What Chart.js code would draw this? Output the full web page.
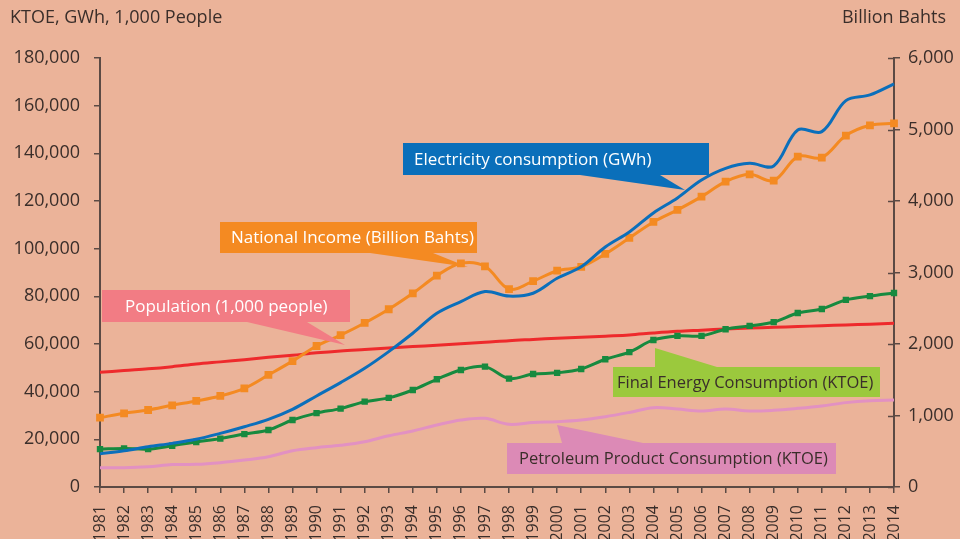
<!DOCTYPE html>
<html>
<head>
<meta charset="utf-8">
<script src="https://cdn.jsdelivr.net/npm/chart.js@4/dist/chart.umd.min.js"></script>
<style>
  body { margin: 0; background: #ebb399; }
  canvas { display: block; }
</style>
</head>
<body>
<canvas id="energyChart" width="960" height="539"></canvas>
<script>
const years = ['1981', '1982', '1983', '1984', '1985', '1986', '1987', '1988', '1989', '1990',
  '1991', '1992', '1993', '1994', '1995', '1996', '1997', '1998', '1999', '2000',
  '2001', '2002', '2003', '2004', '2005', '2006', '2007', '2008', '2009', '2010',
  '2011', '2012', '2013', '2014'];

// left axis: KTOE, GWh, 1,000 people
const electricity = [13900, 15200, 16900, 18300, 20000, 22500, 25300, 28400, 32600, 38200,
  43800, 49800, 56800, 64500, 72900, 77800, 82000, 80100, 81300, 87600,
  92400, 100700, 107000, 115000, 121300, 128800, 133700, 135800, 134700, 149800,
  149100, 162100, 164500, 169100];
const population = [48100, 48900, 49600, 50500, 51600, 52500, 53400, 54400, 55300, 56300,
  57100, 57700, 58300, 58900, 59500, 60100, 60700, 61400, 61900, 62400,
  62800, 63300, 63800, 64600, 65300, 65800, 66300, 66700, 67000, 67300,
  67700, 68000, 68300, 68700];
const finalEnergy = [15900, 16200, 15900, 17300, 18900, 20300, 22200, 23900, 28100, 31000,
  32900, 35800, 37400, 40700, 45200, 49100, 50500, 45500, 47400, 47900,
  49500, 53600, 56600, 61700, 63400, 63400, 66200, 67600, 69200, 73000,
  74700, 78500, 80100, 81400];
const petroleum = [8100, 8100, 8500, 9400, 9500, 10200, 11300, 12700, 15200, 16500,
  17500, 19000, 21500, 23500, 26000, 28100, 28800, 26300, 27100, 27400,
  28100, 29500, 31300, 33300, 32700, 31900, 32700, 31900, 32200, 33000,
  34000, 35400, 36200, 36500];
// right axis: billion bahts
const nationalIncome = [970, 1031, 1077, 1143, 1203, 1273, 1380, 1567, 1760, 1972,
  2124, 2294, 2486, 2709, 2956, 3129, 3087, 2768, 2878, 3025,
  3080, 3260, 3483, 3707, 3875, 4061, 4271, 4373, 4285, 4621,
  4607, 4915, 5059, 5087];

const leftTicks = [0, 20000, 40000, 60000, 80000, 100000, 120000, 140000, 160000, 180000];
const rightTicks = [0, 1000, 2000, 3000, 4000, 5000, 6000];

const FONT = 'Open Sans';
const AXIS = '#5b4a44';
const TEXT = '#3a2e2a';

function fmt(v) {
  return String(v).replace(/\B(?=(\d{3})+(?!\d))/g, ',');
}

const callouts = [
  { text: 'Electricity consumption (GWh)', fill: '#0a6fba', color: '#ffffff', size: 17,
    box: [403, 143, 306, 32], tx: 414, tri: [[580, 175], [660, 175], [685, 190]] },
  { text: 'National Income (Billion Bahts)', fill: '#f48a22', color: '#ffffff', size: 17,
    box: [220, 222, 257, 31], tx: 231, tri: [[370, 253], [433, 253], [468, 267]] },
  { text: 'Population (1,000 people)', fill: '#f27c84', color: '#ffffff', size: 17,
    box: [102, 290, 248, 32], tx: 125, tri: [[247, 322], [307, 322], [345, 345]] },
  { text: 'Final Energy Consumption (KTOE)', fill: '#9bc93d', color: TEXT, size: 16.5,
    box: [613, 367, 267, 30], tx: 617, tri: [[655, 367], [655, 348], [717, 367]] },
  { text: 'Petroleum Product Consumption (KTOE)', fill: '#dc8ab6', color: TEXT, size: 16.5,
    box: [507, 443, 329, 31], tx: 519, tri: [[557, 425], [562, 443], [643, 443]] }
];

const decor = {
  id: 'decor',
  beforeDraw(chart) {
    const c = chart.ctx;
    c.save();
    c.fillStyle = '#ebb399';
    c.fillRect(0, 0, chart.width, chart.height);
    c.restore();
  },
  afterDatasetsDraw(chart) {
    const c = chart.ctx;
    c.save();
    callouts.forEach(o => {
      c.fillStyle = o.fill;
      c.fillRect(o.box[0], o.box[1], o.box[2], o.box[3]);
      c.beginPath();
      c.moveTo(o.tri[0][0], o.tri[0][1]);
      c.lineTo(o.tri[1][0], o.tri[1][1]);
      c.lineTo(o.tri[2][0], o.tri[2][1]);
      c.closePath();
      c.fill();
      c.fillStyle = o.color;
      c.font = o.size + 'px "' + FONT + '"';
      c.textBaseline = 'middle';
      c.textAlign = 'left';
      c.fillText(o.text, o.tx, o.box[1] + o.box[3] / 2 + 1);
    });
    c.restore();
  },
  afterDraw(chart) {
    const c = chart.ctx;
    const area = chart.chartArea;
    const y1 = chart.scales.y1;
    c.save();
    // inner half of the right axis ticks
    c.strokeStyle = AXIS;
    c.lineWidth = 1.5;
    rightTicks.forEach(v => {
      const py = Math.round(y1.getPixelForValue(v)) + 0.5;
      c.beginPath();
      c.moveTo(area.right - 6, py);
      c.lineTo(area.right, py);
      c.stroke();
    });
    c.fillStyle = TEXT;
    c.font = '18px "' + FONT + '"';
    c.textBaseline = 'middle';
    c.textAlign = 'left';
    c.fillText('KTOE, GWh, 1,000 People', 10, 18);
    c.textAlign = 'right';
    c.fillText('Billion Bahts', 946, 18);
    c.restore();
  }
};

function line(label, data, color, axis, order, marker) {
  return {
    label: label,
    data: data,
    yAxisID: axis,
    borderColor: color,
    backgroundColor: color,
    borderWidth: 3,
    tension: 0.35,
    order: order,
    pointStyle: 'rect',
    pointRadius: marker,
    pointHoverRadius: marker,
    pointBorderWidth: 0
  };
}

const ctx = document.getElementById('energyChart').getContext('2d');
const energyChart = new Chart(ctx, {
  type: 'line',
  data: {
    labels: years,
    datasets: [
      line('Electricity consumption (GWh)', electricity, '#0b6fbb', 'y', 1, 0),
      line('National Income (Billion Bahts)', nationalIncome, '#f48a22', 'y1', 2, 5.5),
      line('Final Energy Consumption (KTOE)', finalEnergy, '#178a3f', 'y', 3, 4.5),
      line('Population (1,000 people)', population, '#ee2a2c', 'y', 4, 0),
      line('Petroleum Product Consumption (KTOE)', petroleum, '#e291c2', 'y', 5, 0)
    ]
  },
  options: {
    responsive: false,
    animation: false,
    layout: { padding: { top: 58, left: 0, right: 0, bottom: 0 } },
    plugins: { legend: { display: false }, tooltip: { enabled: false } },
    scales: {
      x: {
        type: 'category',
        offset: false,
        afterFit: s => { s.height = 52; },
        grid: { drawOnChartArea: false, drawTicks: true, tickLength: 6, color: AXIS, lineWidth: 1.5 },
        border: { color: AXIS, width: 2 },
        ticks: { autoSkip: false, minRotation: 90, maxRotation: 90, padding: 12, color: TEXT,
          font: { family: FONT, size: 16 } }
      },
      y: {
        position: 'left',
        min: 0,
        max: 180000,
        afterFit: s => { s.width = 100; },
        afterBuildTicks: s => { s.ticks = leftTicks.map(v => ({ value: v })); },
        grid: { drawOnChartArea: false, drawTicks: true, tickLength: 6, color: AXIS, lineWidth: 1.5 },
        border: { color: AXIS, width: 2 },
        ticks: { padding: 14, color: TEXT, font: { family: FONT, size: 18 }, callback: v => fmt(v) }
      },
      y1: {
        position: 'right',
        min: 0,
        max: 6000,
        afterFit: s => { s.width = 66; },
        afterBuildTicks: s => { s.ticks = rightTicks.map(v => ({ value: v })); },
        grid: { drawOnChartArea: false, drawTicks: true, tickLength: 6, color: AXIS, lineWidth: 1.5 },
        border: { color: AXIS, width: 2 },
        ticks: { padding: 8, color: TEXT, font: { family: FONT, size: 18 }, callback: v => fmt(v) }
      }
    }
  },
  plugins: [decor]
});
</script>
</body>
</html>
